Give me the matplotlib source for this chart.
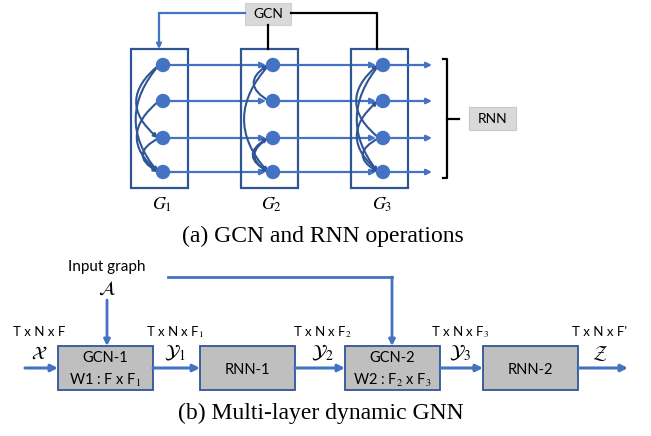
import matplotlib.pyplot as plt
from matplotlib.patches import Rectangle, FancyArrowPatch, Circle

BLUE = '#4472C4'
EDGE = '#2F5597'
SANS = ['Lato', 'DejaVu Sans']
SERIF = ['Liberation Serif', 'DejaVu Serif']
plt.rcParams['mathtext.fontset'] = 'stix'

# ---- top panel: graph snapshots ----
snap_x = [163, 273, 383]            # node column of each snapshot
snap_labels = ['$G_1$', '$G_2$', '$G_3$']
node_y = [65, 101, 138, 172]
# intra-snapshot edges (from node, to node, curvature)
snap_edges = [
    [(0, 2, 0.6), (0, 3, 0.42), (1, 3, 0.6), (2, 3, 0.9)],
    [(1, 0, -0.8), (0, 3, 0.45), (3, 2, -0.9), (2, 3, 0.8)],
    [(2, 0, -0.6), (0, 3, 0.4), (3, 1, -0.6), (2, 3, 0.9)],
]

# ---- bottom panel: layer pipeline ----
blocks = [('GCN-1', 'W1 : F x F$_1$'), ('RNN-1', None),
          ('GCN-2', 'W2 : F$_2$ x F$_3$'), ('RNN-2', None)]
block_x = [58, 200, 345, 483]
dims = ['T x N x F', 'T x N x F$_1$', 'T x N x F$_2$', 'T x N x F$_3$', "T x N x F'"]
syms = [r'$\mathcal{X}$', r'$\mathcal{Y}_1$', r'$\mathcal{Y}_2$', r'$\mathcal{Y}_3$', r'$\mathcal{Z}$']
sym_x = [39, 175, 322, 460, 600]


def arrow(ax, p, q, color=BLUE, lw=1.8, head=True, ms=9, cs='arc3,rad=0'):
    ax.add_patch(FancyArrowPatch(p, q, arrowstyle='-|>' if head else '-',
                                 mutation_scale=ms, color=color, lw=lw,
                                 connectionstyle=cs, shrinkA=0, shrinkB=0))


fig = plt.figure(figsize=(6.51, 4.36), dpi=100)
ax = fig.add_axes([0, 0, 1, 1])
ax.set_xlim(0, 651)
ax.set_ylim(436, 0)
ax.axis('off')

# GCN box and its links to the snapshots
ax.add_patch(Rectangle((245, 3), 46, 22, fc='#D9D9D9', ec='#D0D0D0', lw=0.8))
ax.text(268, 14, 'GCN', ha='center', va='center', fontsize=10, family=SANS)
ax.plot([245, 159], [13, 13], color=BLUE, lw=1.6)
arrow(ax, (159, 13), (159, 49), lw=1.6, ms=7)
ax.plot([268, 268], [25, 49], color='black', lw=1.6)
ax.plot([291, 377, 377], [13, 13, 49], color='black', lw=1.6)

for k, cx in enumerate(snap_x):
    ax.add_patch(Rectangle((cx - 32, 49), 57, 139, fill=False, ec=EDGE, lw=1.6))
    for i, j, rad in snap_edges[k]:
        p = (cx - 4, node_y[i])
        q = (cx - 5, node_y[j])
        arrow(ax, p, q, color=EDGE, lw=1.5, ms=6, cs='arc3,rad=%.2f' % rad)
    for y in node_y:
        nx = snap_x[k + 1] - 7 if k + 1 < len(snap_x) else 432
        arrow(ax, (cx, y), (nx, y), lw=1.6, ms=8)
    for y in node_y:
        ax.add_patch(Circle((cx, y), 6.5, color=BLUE, zorder=5))
    ax.text(cx - 1, 205, snap_labels[k], ha='center', va='center', fontsize=13)

# bracket gathering the outputs into the RNN
ax.plot([443, 447, 447, 443], [59, 59, 178, 178], color='black', lw=1.6)
ax.plot([447, 459], [119, 119], color='black', lw=1.6)
ax.add_patch(Rectangle((469, 107), 47, 23, fc='#D9D9D9', ec='#C8C8C8', lw=0.8))
ax.text(492.5, 119, 'RNN', ha='center', va='center', fontsize=10, family=SANS)

ax.text(323, 236, '(a) GCN and RNN operations', ha='center', va='center',
        fontsize=17, family=SERIF)

# ---- bottom pipeline ----
ax.text(107, 267, 'Input graph', ha='center', va='center', fontsize=11, family=SANS)
ax.text(107, 288, r'$\mathcal{A}$', ha='center', va='center', fontsize=14)
arrow(ax, (107, 300), (107, 346), lw=2)
ax.plot([168, 392], [277, 277], color=BLUE, lw=2)
arrow(ax, (392, 277), (392, 346), lw=2)

by = 368
for (name, sub), x0 in zip(blocks, block_x):
    ax.add_patch(Rectangle((x0, 346), 95, 44, fc='#BFBFBF', ec=EDGE, lw=1.3))
    if sub:
        ax.text(x0 + 47.5, 358, name, ha='center', va='center', fontsize=10.5, family=SANS)
        ax.text(x0 + 47.5, 380, sub, ha='center', va='center', fontsize=10.5, family=SANS)
    else:
        ax.text(x0 + 47.5, 370, name, ha='center', va='center', fontsize=10.5, family=SANS)

starts = [25] + [x + 95 for x in block_x]
ends = block_x + [628]
for s, e in zip(starts, ends):
    arrow(ax, (s, by), (e, by), lw=2.2, ms=10)
for d, s, x in zip(dims, syms, sym_x):
    ax.text(x, 332, d, ha='center', va='center', fontsize=9.5, family=SANS)
    ax.text(x, 353, s, ha='center', va='center', fontsize=14)

ax.text(321, 413, '(b) Multi-layer dynamic GNN', ha='center', va='center',
        fontsize=17, family=SERIF)

fig.savefig('out.png', dpi=100)
